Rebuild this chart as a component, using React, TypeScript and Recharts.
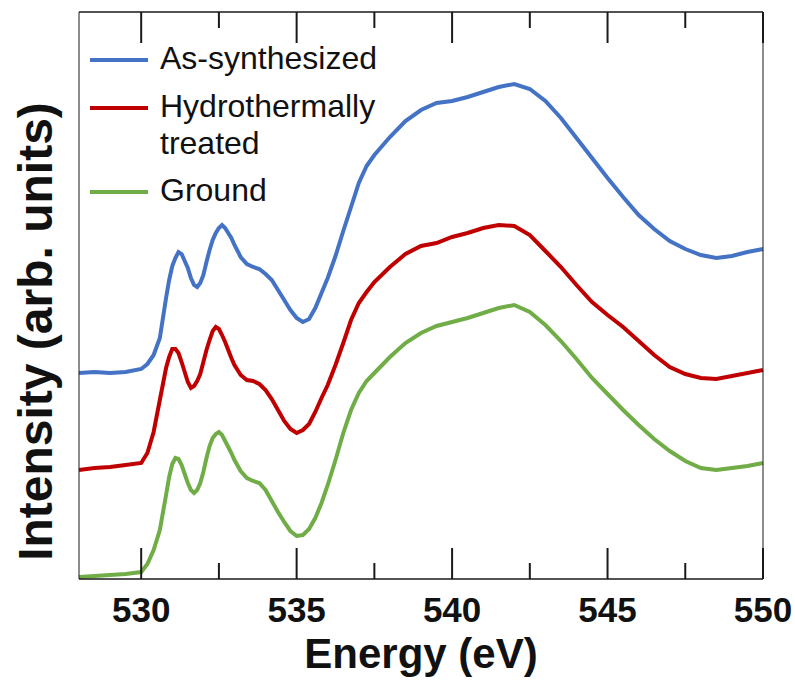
import { Legend, Line, LineChart, XAxis, YAxis } from "recharts";

// energy grid (eV), denser around the pre-edge peaks
const ENERGY = [
  528, 528.5, 529, 529.5, 530,
  530.2, 530.4, 530.6, 530.8,
  530.9, 531, 531.1, 531.2, 531.3, 531.4, 531.5, 531.6, 531.7, 531.8, 531.9, 532, 532.1, 532.2, 532.3,
  532.4, 532.5, 532.6, 532.7, 532.8, 532.9, 533,
  533.2, 533.4, 533.6, 533.8, 534, 534.2, 534.4, 534.6, 534.8, 535, 535.2, 535.4, 535.6, 535.8, 536,
  536.25, 536.5, 536.75, 537, 537.25, 537.5,
  538, 538.5, 539, 539.5, 540, 540.5, 541, 541.5, 542, 542.5, 543, 543.5, 544, 544.5, 545, 545.5,
  546, 546.5, 547, 547.5, 548, 548.5, 549, 549.5, 550,
];

// intensities in arbitrary units (curves are offset vertically)
const AS_SYNTHESIZED = [
  206, 207, 206, 207, 210,
  215, 224, 241, 281,
  299, 313, 321, 327, 325, 318, 311, 301, 294, 292, 296, 304, 317, 329, 339,
  346, 351, 354, 351, 346, 341, 334,
  322, 315, 312, 310, 305, 299, 289, 279, 269, 261, 257, 260, 271, 286, 301,
  323, 348, 372, 396, 413, 424,
  442, 458, 469, 476, 478, 482, 487, 492, 495, 490, 478, 461, 441, 421, 401, 382,
  364, 350, 338, 330, 324, 321, 323, 327, 330,
];

const HYDROTHERMAL = [
  109, 111, 112, 114, 116,
  126, 147, 179, 211,
  222, 230, 230, 226, 217, 207, 197, 191, 193, 198, 205, 217, 229, 239, 248,
  252, 250, 244, 237, 229, 221, 214,
  204, 199, 198, 195, 189, 180, 169, 158, 150, 146, 149, 155, 167, 181, 194,
  214, 236, 259, 276, 287, 297,
  312, 325, 333, 336, 342, 346, 351, 354, 353, 344, 328, 312, 294, 277, 264, 252,
  238, 224, 212, 205, 201, 200, 203, 206, 209,
];

const GROUND = [
  2, 3, 4, 5, 7,
  15, 29, 49, 84,
  102, 115, 121, 120, 114, 105, 96, 89, 86, 89, 96, 107, 121, 133, 141,
  145, 147, 144, 138, 132, 126, 119,
  108, 101, 98, 96, 89, 78, 67, 57, 48, 43, 44, 50, 61, 76, 94,
  119, 146, 169, 186, 198, 206,
  222, 236, 246, 253, 257, 261, 266, 271, 274, 267, 254, 238, 220, 201, 185, 169,
  154, 140, 128, 118, 111, 109, 111, 113, 116,
];

const X_TICKS = [530, 532.5, 535, 537.5, 540, 542.5, 545, 547.5, 550];

const SERIES = [
  { key: "asSynthesized", label: ["As-synthesized"], color: "#4472C4" },
  { key: "hydrothermal", label: ["Hydrothermally", "treated"], color: "#C00000" },
  { key: "ground", label: ["Ground"], color: "#70AD47" },
];

const FONT = "'Liberation Sans', Arial, sans-serif";
const AXIS_COLOR = "#1a1a1a";

const data = ENERGY.map((e, i) => ({
  energy: e,
  asSynthesized: AS_SYNTHESIZED[i],
  hydrothermal: HYDROTHERMAL[i],
  ground: GROUND[i],
}));

// long ticks every 5 eV, short ones in between, both pointing into the plot
const tickLen = (v: number) => (v % 5 === 0 ? 31 : 16);

function BottomTick({ x, y, payload }: any) {
  return (
    <g>
      <line x1={x} x2={x} y1={y} y2={y - tickLen(payload.value)} stroke={AXIS_COLOR} strokeWidth={2} />
      <text x={x} y={y + 43} textAnchor="middle" fontSize={35} fontWeight="bold" fontFamily={FONT} fill="#111">
        {payload.value % 5 === 0 ? payload.value : ""}
      </text>
    </g>
  );
}

function TopTick({ x, y, payload }: any) {
  return <line x1={x} x2={x} y1={y} y2={y + tickLen(payload.value)} stroke={AXIS_COLOR} strokeWidth={2} />;
}

function LegendBox() {
  return (
    <div style={{ fontFamily: FONT, fontSize: 32, color: "#111" }}>
      {SERIES.map((s) => (
        <div key={s.key} style={{ display: "flex", alignItems: "flex-start", marginBottom: 10.5 }}>
          <span style={{ width: 58, height: 4, background: s.color, marginTop: 18, flexShrink: 0 }} />
          <span style={{ marginLeft: 12, lineHeight: "37px" }}>
            {s.label.map((l) => (
              <div key={l}>{l}</div>
            ))}
          </span>
        </div>
      ))}
    </div>
  );
}

export default function App() {
  return (
    <div style={{ position: "absolute", left: 0, top: 0 }}>
      <LineChart width={795} height={687} data={data} margin={{ top: 0, right: 0, bottom: 0, left: 0 }}>
        <XAxis
          dataKey="energy"
          type="number"
          domain={[528, 550]}
          ticks={X_TICKS}
          interval={0}
          height={108}
          tickSize={0}
          tickMargin={0}
          tick={(p: any) => <BottomTick {...p} />}
          axisLine={{ stroke: AXIS_COLOR, strokeWidth: 1.6 }}
          label={{
            content: ({ viewBox }: any) => (
              <text
                x={viewBox.x + viewBox.width / 2}
                y={viewBox.y + 89}
                textAnchor="middle"
                fontSize={42}
                fontWeight="bold"
                fontFamily={FONT}
                fill="#111"
              >
                Energy (eV)
              </text>
            ),
          }}
        />
        <XAxis
          xAxisId="top"
          dataKey="energy"
          orientation="top"
          type="number"
          domain={[528, 550]}
          ticks={X_TICKS}
          interval={0}
          height={12}
          tickSize={0}
          tickMargin={0}
          tick={(p: any) => <TopTick {...p} />}
          axisLine={{ stroke: AXIS_COLOR, strokeWidth: 1.6 }}
        />
        <YAxis
          domain={[0, 567]}
          width={79}
          tick={false}
          stroke={AXIS_COLOR}
          label={{
            content: ({ viewBox }: any) => {
              const cx = viewBox.x + 52;
              const cy = viewBox.y + viewBox.height / 2 + 36;
              return (
                <text
                  x={cx}
                  y={cy}
                  transform={`rotate(-90, ${cx}, ${cy})`}
                  textAnchor="middle"
                  fontSize={48}
                  fontWeight="bold"
                  fontFamily={FONT}
                  fill="#111"
                >
                  Intensity (arb. units)
                </text>
              );
            },
          }}
        />
        <YAxis yAxisId="right" orientation="right" domain={[0, 567]} width={32} tick={false} stroke={AXIS_COLOR} />
        <Legend
          layout="vertical"
          align="center"
          verticalAlign="middle"
          content={() => <LegendBox />}
          wrapperStyle={{ position: "absolute", left: 90, top: 40, width: "auto", height: "auto" }}
        />
        {SERIES.map((s) => (
          <Line
            key={s.key}
            dataKey={s.key}
            stroke={s.color}
            strokeWidth={4}
            dot={false}
            isAnimationActive={false}
          />
        ))}
      </LineChart>
    </div>
  );
}
